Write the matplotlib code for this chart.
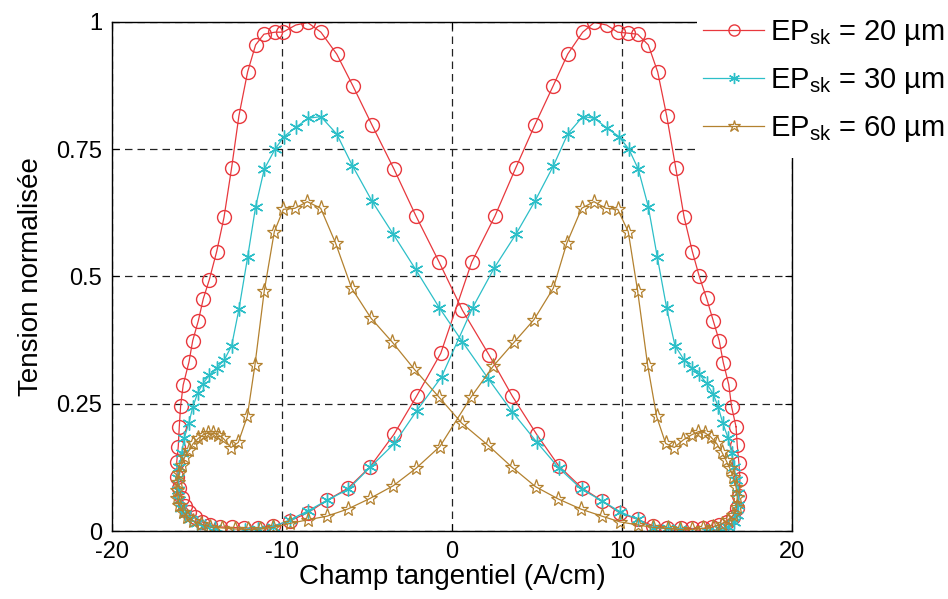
import matplotlib
matplotlib.use("Agg")
import matplotlib.pyplot as plt
from matplotlib.patches import Rectangle

plt.rcParams['font.family'] = ['Liberation Sans', 'DejaVu Sans']
plt.rcParams['mathtext.fontset'] = 'custom'
plt.rcParams['mathtext.rm'] = 'Liberation Sans'
plt.rcParams['mathtext.it'] = 'Liberation Sans'

# ---- data (field H in A/cm, normalised voltage) : one closed loop per series ----
h_20 = [16.71, 16.78, 16.88, 16.94, 16.90, 16.78, 16.51, 16.16, 15.72, 15.28, 14.75, 14.10, 13.45, 12.63,
        11.84, 10.92, 9.88, 8.84, 7.63, 6.28, 4.98, 3.55, 2.18, 0.61, -0.75, -2.12, -3.41, -4.71, -5.82,
        -6.78, -7.71, -8.49, -9.19, -9.94, -10.41, -11.06, -11.55, -12.02, -12.53, -12.96, -13.41, -13.84,
        -14.28, -14.63, -14.92, -15.25, -15.47, -15.81, -15.96, -16.04, -16.10, -16.19, -16.16, -16.04,
        -15.90, -15.71, -15.45, -15.12, -14.72, -14.24, -13.65, -12.96, -12.22, -11.39, -10.51,
        -9.53, -8.47, -7.37, -6.12, -4.82, -3.41, -2.08, -0.66, 1.16, 2.53, 3.76, 4.88, 5.96, 6.81, 7.69,
        8.37, 9.10, 9.75, 10.37, 10.92, 11.55, 12.10, 12.63, 13.16, 13.66, 14.14, 14.55, 14.98, 15.37,
        15.72, 15.96, 16.28, 16.45]
v_20 = [0.205, 0.169, 0.133, 0.102, 0.069, 0.045, 0.028, 0.018, 0.012, 0.007, 0.005, 0.005, 0.005, 0.005,
        0.010, 0.023, 0.035, 0.059, 0.085, 0.128, 0.190, 0.265, 0.346, 0.434, 0.528, 0.619, 0.711, 0.798,
        0.874, 0.937, 0.980, 0.999, 0.994, 0.980, 0.980, 0.976, 0.955, 0.902, 0.816, 0.714, 0.616, 0.549,
        0.493, 0.456, 0.413, 0.374, 0.332, 0.287, 0.246, 0.205, 0.166, 0.136, 0.107, 0.084,
        0.064, 0.049, 0.038, 0.027, 0.018, 0.012, 0.008, 0.007, 0.006, 0.006, 0.010,
        0.020, 0.036, 0.060, 0.084, 0.126, 0.190, 0.265, 0.349, 0.528, 0.619, 0.714, 0.798, 0.875, 0.937,
        0.980, 0.999, 0.994, 0.980, 0.978, 0.976, 0.955, 0.902, 0.816, 0.714, 0.616, 0.549, 0.500, 0.457,
        0.413, 0.374, 0.331, 0.288, 0.244]

h_30 = [12.63, 13.12, 13.66, 14.10, 14.55, 14.98, 15.37, 15.66, 15.92, 16.25, 16.45, 16.59, 16.71, 16.81,
        16.84, 16.78, 16.59, 16.25, 15.76, 15.00, 14.12, 13.41, 12.71, 11.84, 10.92, 9.88, 8.84, 7.63, 6.28,
        4.98, 3.55, 2.14, 0.61, -0.75, -2.14, -3.45, -4.72, -5.86, -6.78, -7.71, -8.45, -9.19, -9.88,
        -10.41, -11.04, -11.55, -12.02, -12.53, -12.96, -13.41, -13.84, -14.28, -14.66, -14.96, -15.25,
        -15.47, -15.75, -15.90, -16.04, -16.12, -16.12, -16.06, -15.91, -15.71, -15.41, -15.00, -14.53,
        -13.94, -12.90, -12.18, -11.41, -10.53,
        -9.53, -8.45, -7.37, -6.10, -4.82, -3.39, -2.08, -0.61, 1.22, 2.49, 3.76, 4.88, 5.96, 6.81, 7.69,
        8.37, 9.10, 9.82, 10.41, 10.96, 11.55, 12.08]
v_30 = [0.438, 0.364, 0.336, 0.321, 0.308, 0.290, 0.269, 0.244, 0.213, 0.182, 0.153, 0.126, 0.100, 0.074,
        0.051, 0.031, 0.018, 0.008, 0.003, 0.001, -0.008, 0.004, 0.005, 0.005, 0.023, 0.038, 0.059, 0.082,
        0.124, 0.175, 0.234, 0.299, 0.372, 0.439, 0.514, 0.583, 0.649, 0.718, 0.780, 0.814, 0.811, 0.793,
        0.775, 0.750, 0.711, 0.637, 0.538, 0.436, 0.364, 0.335, 0.321, 0.306, 0.289, 0.271, 0.243,
        0.213, 0.182, 0.153, 0.126, 0.104, 0.081, 0.061, 0.045, 0.033, 0.024, 0.016, 0.010,
        0.005, -0.008, 0.002, 0.003, 0.008,
        0.022, 0.040, 0.060, 0.082, 0.125, 0.172, 0.236, 0.303, 0.439, 0.517, 0.583, 0.648, 0.717, 0.780,
        0.814, 0.811, 0.792, 0.775, 0.750, 0.711, 0.637, 0.538]

h_60 = [10.92, 11.51, 12.04, 12.57, 13.08, 13.61, 14.10, 14.49, 14.88, 15.22, 15.57, 15.86, 16.12, 16.35,
        16.55, 16.71, 16.78, 16.75, 16.55, 16.25, 15.86, 15.37, 14.78, 14.10, 13.41, 12.69, 11.84, 10.92,
        9.88, 8.84, 7.59, 6.25, 4.92, 3.51, 2.14, 0.57, -0.76, -2.22, -3.51, -4.76, -5.90, -6.84, -7.72,
        -8.51, -9.24, -9.92, -10.45, -11.04, -11.59, -12.04, -12.57, -13.00, -13.45, -13.75, -14.04,
        -14.34, -14.63, -14.92, -15.22, -15.45, -15.71, -15.90, -16.04, -16.14, -16.19, -16.16, -16.04,
        -15.84, -15.57, -15.22, -14.78, -14.24, -13.53, -12.76, -12.00, -11.29, -10.51,
        -9.53, -8.49, -7.37, -6.14, -4.82, -3.45, -2.12, -0.71, 1.12, 2.43, 3.66, 4.82, 5.96, 6.75, 7.63,
        8.35, 9.06, 9.75, 10.37]
v_60 = [0.472, 0.326, 0.225, 0.172, 0.164, 0.179, 0.189, 0.195, 0.193, 0.185, 0.172, 0.156, 0.139, 0.123,
        0.107, 0.087, 0.067, 0.048, 0.031, 0.022, 0.014, 0.008, 0.005, 0.003, 0.003, 0.005, 0.007, 0.012,
        0.018, 0.029, 0.043, 0.063, 0.087, 0.126, 0.168, 0.212, 0.263, 0.318, 0.371, 0.418, 0.477, 0.565,
        0.634, 0.647, 0.634, 0.632, 0.588, 0.472, 0.326, 0.225, 0.174, 0.164, 0.182, 0.189, 0.192,
        0.193, 0.189, 0.182, 0.172, 0.159, 0.146, 0.130, 0.113, 0.097, 0.081, 0.064, 0.051,
        0.038, 0.028, 0.020, 0.014, 0.008, 0.006, 0.004, 0.003, 0.004, 0.007,
        0.015, 0.022, 0.029, 0.043, 0.064, 0.089, 0.123, 0.166, 0.263, 0.324, 0.371, 0.415, 0.477, 0.565,
        0.634, 0.647, 0.634, 0.632, 0.588]

labels = [r'EP$_{\mathrm{sk}}$ = 20 µm', r'EP$_{\mathrm{sk}}$ = 30 µm', r'EP$_{\mathrm{sk}}$ = 60 µm']
x_ticks = [-20, -10, 0, 10, 20]
y_ticks = [0, 0.25, 0.5, 0.75, 1]
y_ticklabels = ['0', '0.25', '0.5', '0.75', '1']

colors = ['#E8383D', '#2CBFC8', '#B3812F']

fig = plt.figure(figsize=(9.48, 5.99), dpi=100)
ax = fig.add_axes([0.1181, 0.1135, 0.7173, 0.8498])

series = [(h_20, v_20, 'o', 10, 1.0), (h_30, v_30, (6, 2, 0), 10, 1.0), (h_60, v_60, '*', 11, 0.9)]
handles = []
for (h, v, mk, ms, mew), c, lab in zip(series, colors, labels):
    hh = list(h) + [h[0]]
    vv = list(v) + [v[0]]
    ln, = ax.plot(hh, vv, color=c, lw=0.9, marker=mk, ms=ms, mfc='none', mec=c, mew=mew,
                  markevery=slice(0, len(h)), label=lab)
    handles.append(ln)

ax.set_xlim(-20, 20)
ax.set_ylim(0, 1)
ax.set_xticks(x_ticks)
ax.set_xticklabels([str(t) for t in x_ticks])
ax.set_yticks(y_ticks)
ax.set_yticklabels(y_ticklabels)
ax.grid(True, linestyle=(0, (6, 4)), color='#222222', linewidth=0.9)
ax.set_axisbelow(True)
ax.tick_params(direction='in', top=True, right=True, length=5, labelsize=17, pad=7)
for s in ax.spines.values():
    s.set_linewidth(1.0)
ax.set_xlabel('Champ tangentiel (A/cm)', fontsize=20, labelpad=1)
ax.set_ylabel('Tension normalisée', fontsize=20, labelpad=9)

# white box behind legend (covers top-right corner of the axes)
rect = Rectangle((697 / 948, 1 - 158 / 599), 1 - 697 / 948, 158 / 599, transform=fig.transFigure,
                 facecolor='white', edgecolor='none', zorder=5)
fig.add_artist(rect)

leg = fig.legend(handles=handles, loc='upper left', bbox_to_anchor=(703 / 948, 1 - 18 / 599),
                 frameon=False, fontsize=21, handlelength=2.1, handletextpad=0.2,
                 labelspacing=0.62, borderaxespad=0.0, borderpad=0.0, numpoints=1,
                 markerscale=0.8)
leg.set_zorder(10)

fig.savefig('out.png', dpi=100)
